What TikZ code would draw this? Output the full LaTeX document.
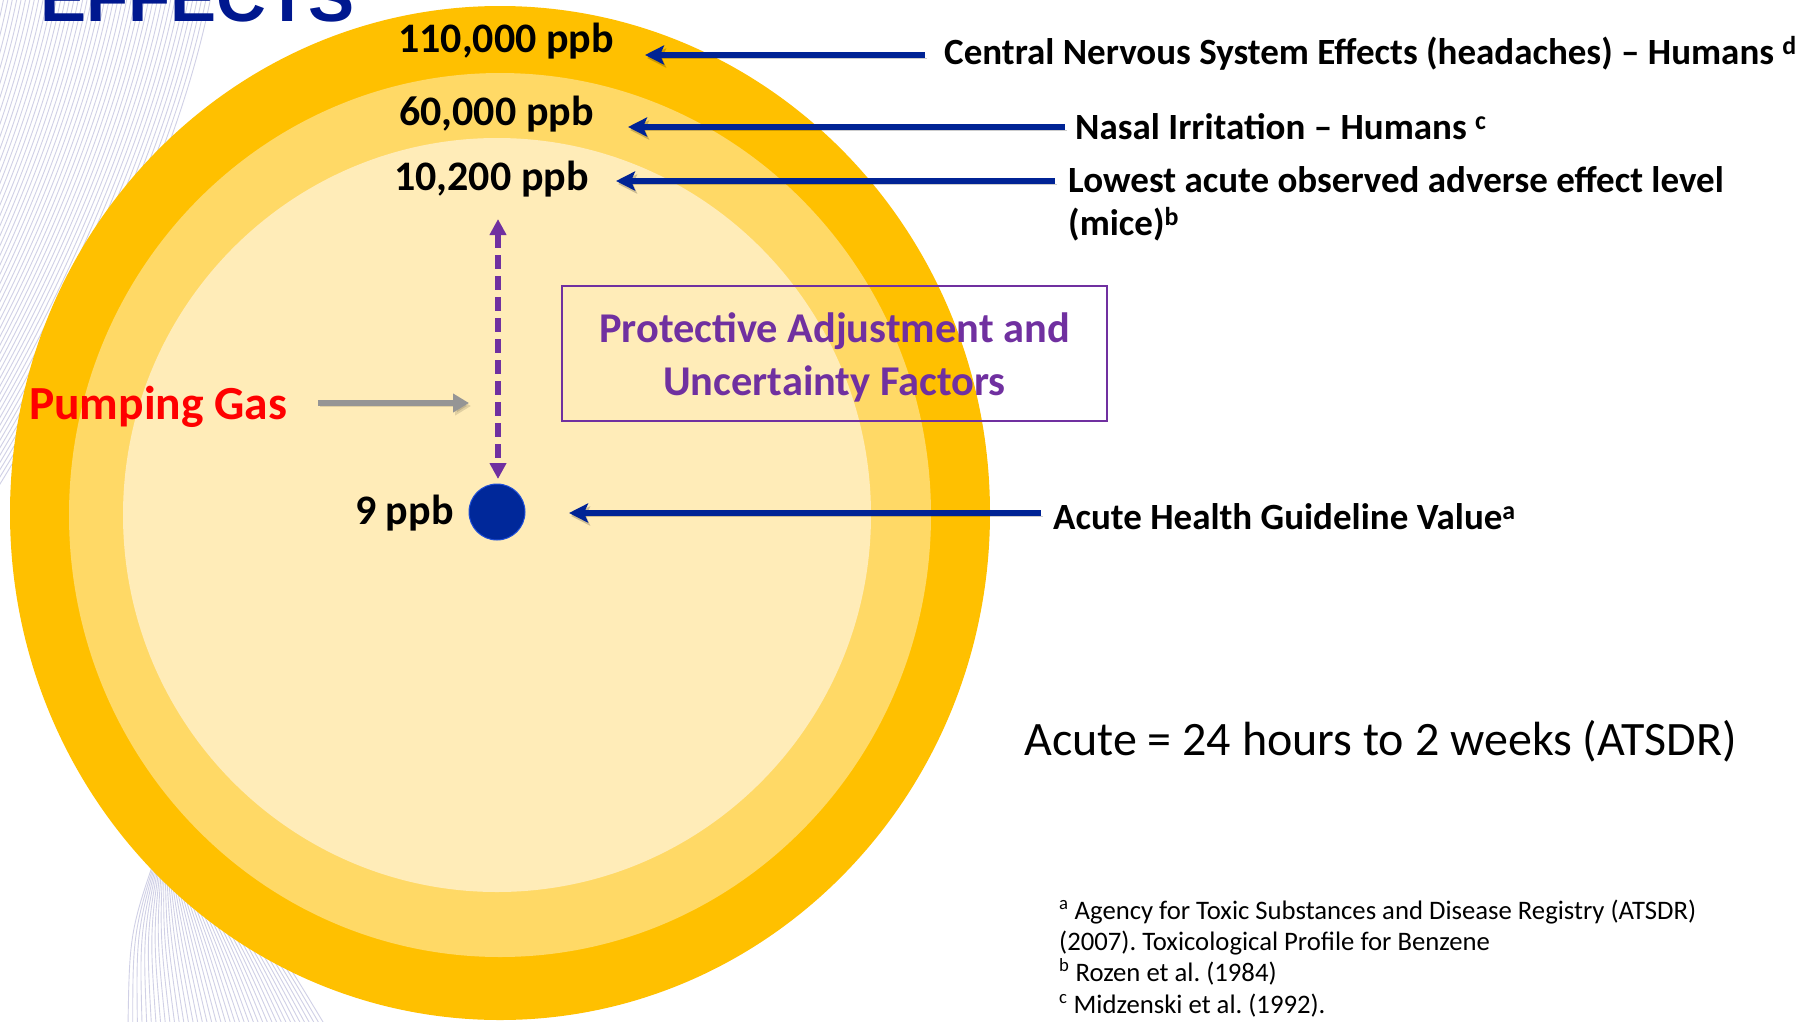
\documentclass[tikz,border=0pt]{standalone}
\usepackage{fontspec}
\setmainfont{Carlito}
\newfontfamily\titlefont{Liberation Sans}
\usetikzlibrary{arrows.meta}
\frenchspacing
\definecolor{goldA}{HTML}{FFC000}
\definecolor{goldB}{HTML}{FFD966}
\definecolor{goldC}{HTML}{FFECB8}
\definecolor{navy}{HTML}{002395}
\definecolor{dotblue}{HTML}{00289A}
\definecolor{dotedge}{HTML}{1F4FD8}
\definecolor{purp}{HTML}{7030A0}
\definecolor{garrow}{HTML}{959595}
\definecolor{titleblue}{HTML}{00188F}
\definecolor{lav}{RGB}{208,208,230}
\begin{document}
\begin{tikzpicture}[x=1pt,y=-1pt,
  bgline/.style={draw=lav, line width=0.9pt},
  bigval/.style={font=\fontsize{42}{50}\selectfont\bfseries, anchor=base west, inner sep=0pt},
  rlabel/.style={font=\fontsize{37}{44}\selectfont\bfseries, anchor=base west, inner sep=0pt},
  boxtext/.style={font=\fontsize{42.4}{50}\selectfont\bfseries, text=purp, anchor=base, inner sep=0pt},
  foot/.style={font=\fontsize{26.7}{31}\selectfont, anchor=base west, inner sep=0pt},
  navyarrow/.style={draw=navy, line width=5.5pt,
    -{Stealth[length=19pt,width=19pt,inset=4pt]},
    preaction={draw=black, opacity=0.2, transform canvas={shift={(2pt,-3pt)}}}},
  purparrow/.style={draw=purp, line width=5.5pt, dash pattern=on 14pt off 7pt,
    {Triangle[length=16pt,width=16pt]}-{Triangle[length=16pt,width=16pt]}},
  grayarrow/.style={draw=garrow, line width=6pt, -{Triangle[length=16pt,width=18pt]},
    preaction={draw=black, opacity=0.12, transform canvas={shift={(2pt,-3pt)}}}},
]
\useasboundingbox (0,0) rectangle (1813,1021);
\clip (0,0) rectangle (1813,1021);
\fill[white] (0,0) rectangle (1813,1021);

% background ribbon lines
\foreach \i in {0,...,48} {
  \pgfmathsetmacro\tx{0+4.4*\i}
  \draw[bgline] (\tx,-5) .. controls (\tx-30,150) and (\tx-120,350) .. (\tx-260,560);
}
\foreach \i in {0,...,42} {
  \pgfmathsetmacro\bx{128+4.7*\i}
  \draw[bgline] (\bx,1026) .. controls (\bx-0.3*\bx+40,930) .. (165,830);
}

% title (cut off at the top edge, as in the slide)
\node[anchor=base west, inner sep=0pt, text=titleblue,
  font=\titlefont\bfseries\fontsize{69}{80}\selectfont] (title) at (40,21) {EFFECTS};

% concentric ellipses
\fill[goldA] (500,513) ellipse [x radius=490, y radius=507];
\fill[goldB] (500,515) ellipse [x radius=431, y radius=442];
\fill[goldC] (497,515) ellipse [x radius=374, y radius=377];

% value labels
\node[bigval] (v110) at (398,52) {110,000 ppb};
\node[bigval] (v60) at (399,125) {60,000 ppb};
\node[bigval] (v10) at (394,190) {10,200 ppb};
\node[bigval] (v9) at (355,524) {9 ppb};
\node[circle, fill=dotblue, draw=dotedge, line width=1pt, minimum size=56pt, inner sep=0pt] (dot) at (497,512) {};

% right labels
\node[rlabel] (cns) at (944,64) {Central Nervous System Effects (headaches) – Humans \textsuperscript{d}};
\node[rlabel] (nasal) at (1075,139) {Nasal Irritation – Humans \textsuperscript{c}};
\node[rlabel] (loael) at (1068,192) {Lowest acute observed adverse effect level};
\node[rlabel] (mice) at (1068,235) {(mice)\textsuperscript{b}};
\node[rlabel] (aghv) at (1053,529) {Acute Health Guideline Value\textsuperscript{a}};

% arrow end points
\coordinate (a1s) at (925,55);  \coordinate (a1e) at (645,55);
\coordinate (a2s) at (1065,127); \coordinate (a2e) at (628,127);
\coordinate (a3s) at (1055,181); \coordinate (a3e) at (616,181);
\coordinate (a4s) at (1041,513); \coordinate (a4e) at (569,513);
\draw[navyarrow] (a1s) -- (a1e);
\draw[navyarrow] (a2s) -- (a2e);
\draw[navyarrow] (a3s) -- (a3e);
\draw[navyarrow] (a4s) -- (a4e);

% protective adjustment box
\node[draw=purp, line width=1.8pt, minimum width=545pt, minimum height=135pt, inner sep=0pt] (box) at (834.5,353.5) {};
\node[boxtext] (bt1) at (834.5,342) {Protective Adjustment and};
\node[boxtext] (bt2) at (834.5,395) {Uncertainty Factors};

% dashed double arrow
\coordinate (dtop) at (498,219);
\coordinate (dbot) at (498,479);
\draw[purparrow] (dtop) -- (dbot);

% pumping gas
\node[anchor=base west, inner sep=0pt, text=red, font=\fontsize{47.5}{57}\selectfont\bfseries] (pump) at (29,419) {Pumping Gas};
\coordinate (gs) at (318,403);
\coordinate (ge) at (469,403);
\draw[grayarrow] (gs) -- (ge);

% acute definition
\node[anchor=base west, inner sep=0pt, font=\fontsize{48}{57}\selectfont] (acute) at (1024,755) {Acute = 24 hours to 2 weeks (ATSDR)};

% footnotes
\node[foot] (f1) at (1059,919) {\textsuperscript{a} Agency for Toxic Substances and Disease Registry (ATSDR)};
\node[foot] (f2) at (1059,950) {(2007). Toxicological Profile for Benzene};
\node[foot] (f3) at (1059,981) {\textsuperscript{b} Rozen et al. (1984)};
\node[foot] (f4) at (1059,1013) {\textsuperscript{c} Midzenski et al. (1992).};
\end{tikzpicture}
\end{document}
